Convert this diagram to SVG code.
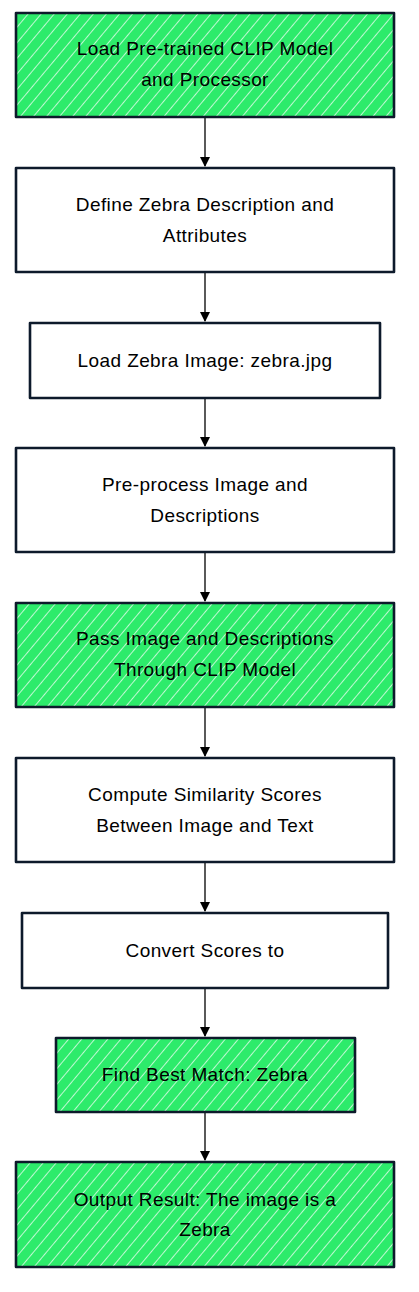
<svg xmlns="http://www.w3.org/2000/svg" width="419" height="1292" viewBox="0 0 419 1292">
<style>
.box{stroke:#0d1a2b;stroke-width:2.6;stroke-linejoin:round}
.w{fill:#ffffff}
.g{fill:url(#hatch)}
.t{font-family:"Liberation Sans",Arial,sans-serif;font-size:19px;letter-spacing:0.4px;fill:#000;text-anchor:middle}
.c{stroke:#000;stroke-width:1.3;fill:none}
</style>
<defs>
<pattern id="hatch" patternUnits="userSpaceOnUse" width="10" height="10" patternTransform="rotate(40)">
<rect width="10" height="10" fill="#2deb6b"/>
<line x1="0" y1="0" x2="0" y2="10" stroke="#ffffff" stroke-width="1.4"/>
</pattern>
<marker id="ah" markerWidth="10" markerHeight="10" refX="9" refY="5" orient="auto" markerUnits="userSpaceOnUse">
<path d="M0,0 L10,5 L0,10 Z" fill="#000"/>
</marker>
</defs>
<g id="connectors">
<line class="c" x1="205" y1="117" x2="205" y2="166" marker-end="url(#ah)"/>
<line class="c" x1="205" y1="272" x2="205" y2="321" marker-end="url(#ah)"/>
<line class="c" x1="205" y1="398" x2="205" y2="446" marker-end="url(#ah)"/>
<line class="c" x1="205" y1="552" x2="205" y2="601" marker-end="url(#ah)"/>
<line class="c" x1="205" y1="707" x2="205" y2="756" marker-end="url(#ah)"/>
<line class="c" x1="205" y1="862" x2="205" y2="911" marker-end="url(#ah)"/>
<line class="c" x1="205" y1="988" x2="205" y2="1036" marker-end="url(#ah)"/>
<line class="c" x1="205" y1="1112" x2="205" y2="1160" marker-end="url(#ah)"/>
</g>
<g id="n1"><rect class="box g" x="16" y="13" width="378" height="104"/><text class="t" x="205" y="55">Load Pre-trained CLIP Model</text><text class="t" x="205" y="86">and Processor</text></g>
<g id="n2"><rect class="box w" x="16" y="168" width="378" height="104"/><text class="t" x="205" y="211">Define Zebra Description and</text><text class="t" x="205" y="242">Attributes</text></g>
<g id="n3"><rect class="box w" x="30" y="323" width="350" height="75"/><text class="t" x="205" y="367">Load Zebra Image: zebra.jpg</text></g>
<g id="n4"><rect class="box w" x="16" y="448" width="378" height="104"/><text class="t" x="205" y="491">Pre-process Image and</text><text class="t" x="205" y="522">Descriptions</text></g>
<g id="n5"><rect class="box g" x="16" y="603" width="378" height="104"/><text class="t" x="205" y="645">Pass Image and Descriptions</text><text class="t" x="205" y="676">Through CLIP Model</text></g>
<g id="n6"><rect class="box w" x="16" y="758" width="378" height="104"/><text class="t" x="205" y="801">Compute Similarity Scores</text><text class="t" x="205" y="832">Between Image and Text</text></g>
<g id="n7"><rect class="box w" x="22" y="913" width="366" height="75"/><text class="t" x="205" y="957">Convert Scores to</text></g>
<g id="n8"><rect class="box g" x="56" y="1038" width="299" height="74"/><text class="t" x="205" y="1081">Find Best Match: Zebra</text></g>
<g id="n9"><rect class="box g" x="16" y="1162" width="378" height="105"/><text class="t" x="205" y="1206">Output Result: The image is a</text><text class="t" x="205" y="1236">Zebra</text></g>
</svg>
